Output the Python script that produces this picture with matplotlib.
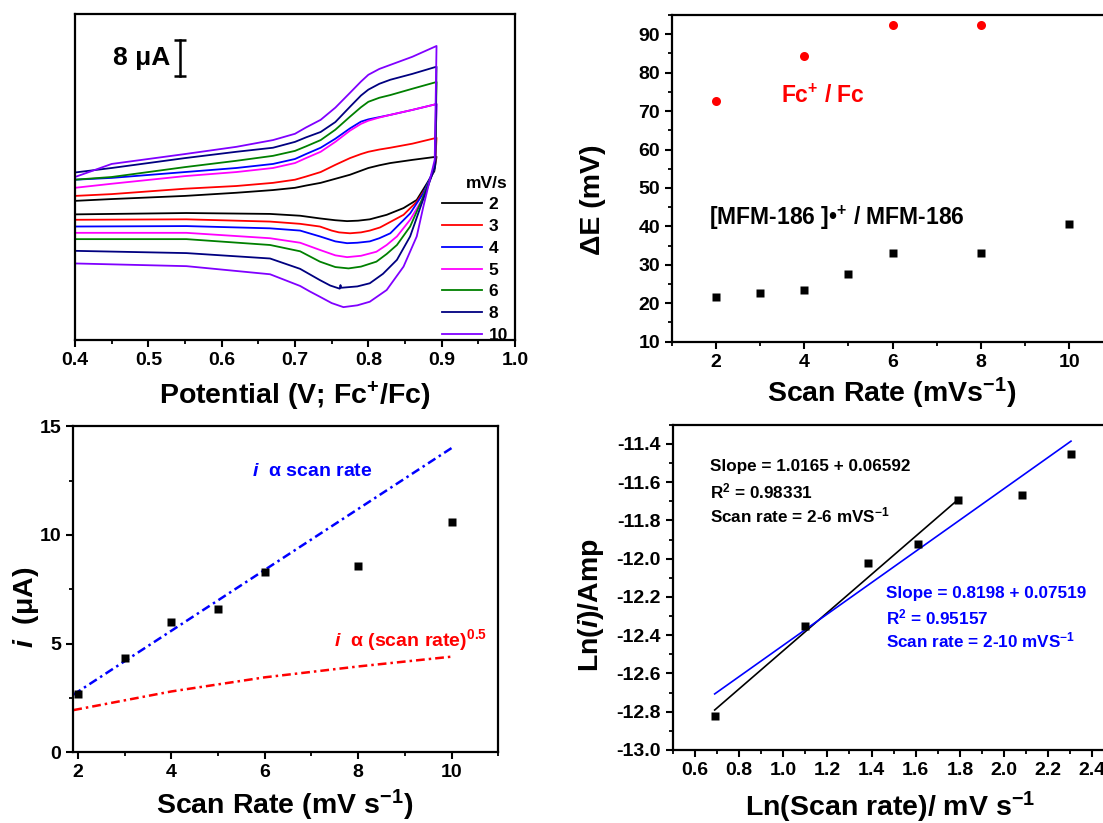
import matplotlib

matplotlib.use("Agg")
import matplotlib.pyplot as plt
from matplotlib.ticker import MultipleLocator, FormatStrFormatter

plt.rcParams.update(
    {
        "font.family": ["Liberation Sans", "DejaVu Sans"],
        "font.weight": "bold",
        "axes.labelweight": "bold",
        "mathtext.fontset": "custom",
        "mathtext.rm": "Liberation Sans:bold",
        "mathtext.it": "Liberation Sans:italic:bold",
        "mathtext.bf": "Liberation Sans:bold",
        "mathtext.sf": "Liberation Sans:bold",
        "axes.unicode_minus": False,
        "axes.linewidth": 1.6,
        "xtick.direction": "out",
        "ytick.direction": "out",
        "xtick.major.width": 1.5,
        "ytick.major.width": 1.5,
        "xtick.minor.width": 1.3,
        "ytick.minor.width": 1.3,
        "xtick.major.size": 5,
        "ytick.major.size": 5,
        "xtick.minor.size": 3,
        "ytick.minor.size": 3,
    }
)

# ---------------- CV (potential in V, current in uA, arbitrary zero) ----------------
cv_rates = ["2", "3", "4", "5", "6", "8", "10"]
cv_colors = ["#000000", "#ff0000", "#0000ff", "#ff00ff", "#008000", "#000080", "#8000ff"]

# anodic sweep, 0.4 V -> 0.893 V
fwd_E = [0.40, 0.45, 0.55, 0.62, 0.67, 0.70, 0.715, 0.735, 0.755, 0.775, 0.79, 0.80, 0.815,
         0.83, 0.86, 0.893]
fwd_2 = [10.9, 11.3, 12.0, 12.7, 13.3, 13.8, 14.3, 14.9, 15.8, 16.7, 17.6, 18.2, 18.8,
         19.3, 20.0, 20.7]
fwd_3 = [12.0, 12.4, 13.6, 14.2, 14.9, 15.6, 16.3, 17.3, 18.9, 20.4, 21.3, 21.8, 22.3,
         22.7, 23.6, 24.9]
fwd_4 = [15.6, 16.0, 17.3, 18.2, 19.1, 20.2, 21.3, 22.7, 24.7, 27.0, 28.5, 29.0, 29.5,
         30.0, 31.1, 32.4]
fwd_5 = [13.8, 14.7, 16.4, 17.3, 18.2, 19.3, 20.4, 21.8, 24.0, 26.5, 28.0, 28.7, 29.4,
         30.0, 31.1, 32.4]
fwd_6 = [15.6, 16.2, 18.4, 19.8, 20.9, 22.0, 23.0, 24.4, 26.7, 29.6, 31.7, 32.9, 33.8,
         34.4, 35.8, 37.3]
fwd_8 = [17.2, 18.2, 20.4, 21.8, 22.7, 24.0, 25.0, 26.2, 28.4, 31.8, 34.3, 35.6, 36.9,
         37.8, 39.1, 40.7]
fwd_10 = [16.2, 19.1, 21.3, 22.9, 24.4, 25.8, 27.2, 28.9, 31.6, 34.9, 37.4, 38.9, 40.2,
          41.1, 42.9, 45.3]

# cathodic sweep, 0.893 V -> 0.4 V
rev_E_2 = [0.893, 0.890, 0.880, 0.866, 0.848, 0.825, 0.802, 0.786, 0.771, 0.755, 0.734,
           0.707, 0.666, 0.552, 0.40]
rev_2 = [20.7, 17.5, 14.8, 11.1, 9.3, 7.8, 6.8, 6.5, 6.4, 6.6, 7.0, 7.6, 8.0, 8.2, 7.9]
rev_E_3 = [0.893, 0.891, 0.880, 0.866, 0.848, 0.816, 0.802, 0.79, 0.775, 0.76, 0.75,
           0.734, 0.707, 0.666, 0.552, 0.40]
rev_3 = [24.9, 18.5, 14.1, 10.7, 7.8, 5.0, 4.3, 3.9, 3.7, 3.9, 4.3, 5.2, 5.8, 6.3, 6.8, 6.7]
rev_E_4 = [0.893, 0.891, 0.875, 0.857, 0.830, 0.815, 0.802, 0.785, 0.771, 0.755, 0.734,
           0.707, 0.666, 0.552, 0.40]
rev_4 = [32.4, 18.5, 12.6, 8.1, 3.7, 2.6, 1.9, 1.6, 1.5, 1.9, 3.0, 4.3, 4.8, 5.3, 5.2]
rev_E_5 = [0.893, 0.891, 0.873, 0.857, 0.839, 0.825, 0.811, 0.79, 0.771, 0.755, 0.734,
           0.707, 0.666, 0.552, 0.40]
rev_5 = [32.4, 18.5, 11.1, 6.7, 3.0, 1.1, -0.4, -1.3, -1.6, -1.2, 0.0, 1.6, 2.6, 3.8, 3.8]
rev_E_6 = [0.893, 0.891, 0.873, 0.857, 0.839, 0.825, 0.811, 0.79, 0.773, 0.755, 0.734,
           0.707, 0.666, 0.552, 0.40]
rev_6 = [37.3, 18.5, 11.1, 5.2, 1.1, -0.9, -2.6, -3.7, -4.1, -3.8, -2.6, -0.3, 1.1, 2.4, 2.4]
rev_E_8 = [0.893, 0.891, 0.873, 0.857, 0.839, 0.82, 0.802, 0.785, 0.763, 0.762, 0.761,
           0.748, 0.734, 0.707, 0.666, 0.552, 0.40]
rev_8 = [40.7, 18.5, 10.4, 3.0, -2.2, -5.3, -7.4, -8.1, -8.4, -7.8, -8.6, -7.9, -6.7, -4.2,
         -1.9, -0.7, -0.2]
rev_E_10 = [0.893, 0.8905, 0.875, 0.866, 0.848, 0.825, 0.802, 0.785, 0.766, 0.75, 0.734,
            0.72, 0.707, 0.666, 0.552, 0.40]
rev_10 = [45.3, 20.0, 9.6, 3.0, -3.7, -8.9, -11.5, -12.3, -12.7, -11.8, -10.4, -9.2, -8.0,
          -5.4, -3.6, -3.0]

cv_fwd = [fwd_2, fwd_3, fwd_4, fwd_5, fwd_6, fwd_8, fwd_10]
cv_rev_E = [rev_E_2, rev_E_3, rev_E_4, rev_E_5, rev_E_6, rev_E_8, rev_E_10]
cv_rev = [rev_2, rev_3, rev_4, rev_5, rev_6, rev_8, rev_10]

scale_bar_E = 0.543
scale_bar_lo = 38.7
scale_bar_uA = 8

# ---------------- Delta E vs scan rate ----------------
fc_rate = [2, 4, 6, 8]
fc_dE = [72.6, 84.3, 92.3, 92.3]
mfm_rate = [2, 3, 4, 5, 6, 8, 10]
mfm_dE = [21.7, 22.8, 23.5, 27.7, 33.0, 33.0, 40.6]

# ---------------- peak current vs scan rate ----------------
ip_rate = [2, 3, 4, 5, 6, 8, 10]
ip_uA = [2.68, 4.32, 5.98, 6.60, 8.28, 8.55, 10.59]
lin_rate = [1.9, 10]
lin_uA = [2.65, 14.0]
sqrt_rate = [1.9, 4, 6, 8, 10]
sqrt_uA = [1.94, 2.8, 3.45, 3.95, 4.4]

# ---------------- ln(i) vs ln(scan rate) ----------------
ln_rate = [0.693, 1.099, 1.386, 1.609, 1.792, 2.079, 2.303]
ln_i = [-12.822, -12.354, -12.023, -11.922, -11.695, -11.665, -11.451]
fit26_x = [0.69, 1.792]
fit26_y = [-12.791, -11.691]
fit210_x = [0.69, 2.303]
fit210_y = [-12.707, -11.386]

W, H = 1103, 823
fig = plt.figure(figsize=(W / 100, H / 100), dpi=100)


def box(l, r, top, bot):
    # pixel box -> figure fraction
    return [l / W, 1 - bot / H, (r - l) / W, (bot - top) / H]


TICK_FS = 14
LABEL_FS = 20.5

# ---- top left: CV ----
ax1 = fig.add_axes(box(75, 515, 14, 340))
for E_r, I_f, I_r, c in zip(cv_rev_E, cv_fwd, cv_rev, cv_colors):
    ax1.plot(fwd_E + E_r, I_f + I_r, color=c, lw=1.3)
ax1.set_xlim(0.4, 1.0)
ax1.set_ylim(-20, 52.4)
ax1.set_yticks([])
ax1.xaxis.set_major_locator(MultipleLocator(0.1))
ax1.xaxis.set_minor_locator(MultipleLocator(0.05))
ax1.xaxis.set_major_formatter(FormatStrFormatter("%.1f"))
ax1.tick_params(labelsize=TICK_FS)
ax1.plot(
    [scale_bar_E, scale_bar_E],
    [scale_bar_lo, scale_bar_lo + scale_bar_uA],
    color="k", lw=1.8, marker="_", ms=9, mew=1.8,
)
ax1.text(0.452, 42.7, "8 μA", fontsize=19, va="center", ha="left")
handles = [plt.Line2D([], [], color=c, lw=1.3) for c in cv_colors]
leg = ax1.legend(
    handles, cv_rates, title="mV/s", loc="lower right", bbox_to_anchor=(1.0, -0.03),
    frameon=False, fontsize=12.5, title_fontsize=12.5, handlelength=2.3,
    handletextpad=0.4, labelspacing=0.38, borderaxespad=0.0, alignment="right",
)
leg.get_title().set_fontweight("bold")
fig.text(295 / W, 1 - 396 / H, r"Potential (V; Fc$^{+}$/Fc)", fontsize=LABEL_FS,
         ha="center", va="center")

# ---- top right: Delta E ----
ax2 = fig.add_axes(box(671.7, 1113.4, 15, 341.7))
ax2.plot(fc_rate, fc_dE, "o", color="#ff0000", ms=6.5, mec="none")
ax2.plot(mfm_rate, mfm_dE, "s", color="k", ms=6, mec="none")
ax2.set_xlim(1, 11)
ax2.set_ylim(10, 95)
ax2.xaxis.set_major_locator(MultipleLocator(2))
ax2.xaxis.set_minor_locator(MultipleLocator(1))
ax2.yaxis.set_major_locator(MultipleLocator(10))
ax2.yaxis.set_minor_locator(MultipleLocator(5))
ax2.tick_params(labelsize=TICK_FS)
ax2.text(3.47, 73.9, r"Fc$^{+}$ / Fc", color="#ff0000", fontsize=16.5, va="center")
ax2.text(1.85, 42.2, r"[MFM-186 ]•$^{+}$ / MFM-186", color="k", fontsize=16.5,
         va="center")
fig.text(892 / W, 1 - 393 / H, r"Scan Rate (mVs$^{-1}$)", fontsize=LABEL_FS,
         ha="center", va="center")
fig.text(593 / W, 1 - 200 / H, "ΔE (mV)", fontsize=LABEL_FS, rotation=90,
         ha="center", va="center")

# ---- bottom left: i vs scan rate ----
ax3 = fig.add_axes(box(73.3, 498.3, 426.3, 752.3))
ax3.plot(lin_rate, lin_uA, color="#0000ff", lw=1.8, ls=(0, (3.5, 1.6, 1, 1.6)))
ax3.plot(sqrt_rate, sqrt_uA, color="#ff0000", lw=1.8, ls=(0, (3.5, 1.6, 1, 1.6)))
ax3.plot(ip_rate, ip_uA, "s", color="k", ms=6, mec="none")
ax3.set_xlim(1.9, 11)
ax3.set_ylim(0, 15)
ax3.xaxis.set_major_locator(MultipleLocator(2))
ax3.xaxis.set_minor_locator(MultipleLocator(1))
ax3.yaxis.set_major_locator(MultipleLocator(5))
ax3.yaxis.set_minor_locator(MultipleLocator(2.5))
ax3.tick_params(labelsize=TICK_FS)
ax3.text(5.73, 12.93, r"$\mathit{i}$  α scan rate", color="#0000ff", fontsize=14,
         va="center")
ax3.text(7.49, 5.17, r"$\mathit{i}$  α (scan rate)$^{0.5}$", color="#ff0000",
         fontsize=14, va="center")
fig.text(285 / W, 1 - 805 / H, r"Scan Rate (mV s$^{-1}$)", fontsize=LABEL_FS,
         ha="center", va="center")
fig.text(26 / W, 1 - 607 / H, r"$\mathit{i}$  (μA)", fontsize=LABEL_FS, rotation=90,
         ha="center", va="center")

# ---- bottom right: ln(i) vs ln(v) ----
ax4 = fig.add_axes(box(672.7, 1136.6, 424.7, 750))
ax4.plot(fit26_x, fit26_y, color="k", lw=1.2)
ax4.plot(fit210_x, fit210_y, color="#0000ff", lw=1.2)
ax4.plot(ln_rate, ln_i, "s", color="k", ms=6, mec="none")
ax4.set_xlim(0.5, 2.6)
ax4.set_ylim(-13.0, -11.3)
ax4.xaxis.set_major_locator(MultipleLocator(0.2))
ax4.xaxis.set_minor_locator(MultipleLocator(0.1))
ax4.yaxis.set_major_locator(MultipleLocator(0.2))
ax4.yaxis.set_minor_locator(MultipleLocator(0.1))
ax4.xaxis.set_major_formatter(FormatStrFormatter("%.1f"))
ax4.yaxis.set_major_formatter(FormatStrFormatter("%.1f"))
ax4.tick_params(labelsize=TICK_FS)
black_txt = ["Slope = 1.0165 + 0.06592", r"R$^{2}$ = 0.98331", r"Scan rate = 2-6 mVS$^{-1}$"]
black_y = [-11.52, -11.648, -11.775]
for s, y in zip(black_txt, black_y):
    ax4.text(0.67, y, s, color="k", fontsize=12.3, va="center")
blue_txt = ["Slope = 0.8198 + 0.07519", r"R$^{2}$ = 0.95157", r"Scan rate = 2-10 mVS$^{-1}$"]
blue_y = [-12.18, -12.306, -12.428]
for s, y in zip(blue_txt, blue_y):
    ax4.text(1.465, y, s, color="#0000ff", fontsize=12.3, va="center")
fig.text(890 / W, 1 - 807 / H, r"Ln(Scan rate)/ mV s$^{-1}$", fontsize=LABEL_FS,
         ha="center", va="center")
fig.text(591 / W, 1 - 605 / H, r"Ln($\mathit{i}$)/Amp", fontsize=LABEL_FS, rotation=90,
         ha="center", va="center")

fig.savefig("out.png", dpi=100)
